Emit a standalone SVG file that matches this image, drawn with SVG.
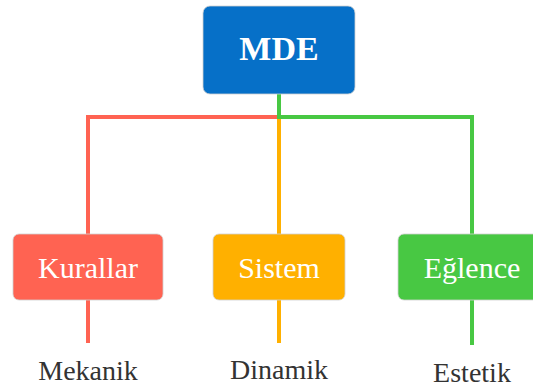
<svg xmlns="http://www.w3.org/2000/svg" width="533" height="387" viewBox="0 0 533 387">
  <style>
    .box { stroke: #d0d0d0; stroke-width: 0.8; }
    .lbl { font-family: "Liberation Serif", "Times New Roman", serif; fill: #ffffff; text-anchor: middle; }
    .sub { font-family: "Liberation Serif", "Times New Roman", serif; fill: #333333; font-size: 28px; text-anchor: middle; }
    .ln { fill: none; stroke-width: 4; stroke-linecap: butt; stroke-linejoin: miter; }
  </style>
  <rect width="533" height="387" fill="#ffffff"/>

  <!-- connectors -->
  <g id="connectors">
    <path class="ln" stroke="#ff6352" d="M279 117 H88 V234"/>
    <path class="ln" stroke="#ff6352" d="M88 300 V343"/>
    <path class="ln" stroke="#ffb000" d="M279 119 V234"/>
    <path class="ln" stroke="#ffb000" d="M279 300 V343"/>
    <path class="ln" stroke="#48c843" d="M279 94 V117 H472 V234"/>
    <path class="ln" stroke="#48c843" d="M472 300 V345"/>
  </g>

  <g id="mde">
    <rect class="box" x="203" y="6" width="152" height="88" rx="7" fill="#0670c8"/>
    <text class="lbl" x="279" y="60" font-size="34" font-weight="bold">MDE</text>
  </g>

  <g id="kurallar">
    <rect class="box" x="13" y="234" width="150" height="66" rx="6" fill="#ff6352"/>
    <text class="lbl" x="88" y="278" font-size="30">Kurallar</text>
  </g>

  <g id="sistem">
    <rect class="box" x="213" y="234" width="132" height="66" rx="6" fill="#ffb000"/>
    <text class="lbl" x="279" y="278" font-size="30">Sistem</text>
  </g>

  <g id="eglence">
    <rect class="box" x="398" y="234" width="149" height="66" rx="6" fill="#48c843"/>
    <text class="lbl" x="472" y="278" font-size="30">Eğlence</text>
  </g>

  <g id="mekanik">
    <text class="sub" x="88" y="380">Mekanik</text>
  </g>
  <g id="dinamik">
    <text class="sub" x="279" y="379">Dinamik</text>
  </g>
  <g id="estetik">
    <text class="sub" x="472" y="382">Estetik</text>
  </g>
</svg>
